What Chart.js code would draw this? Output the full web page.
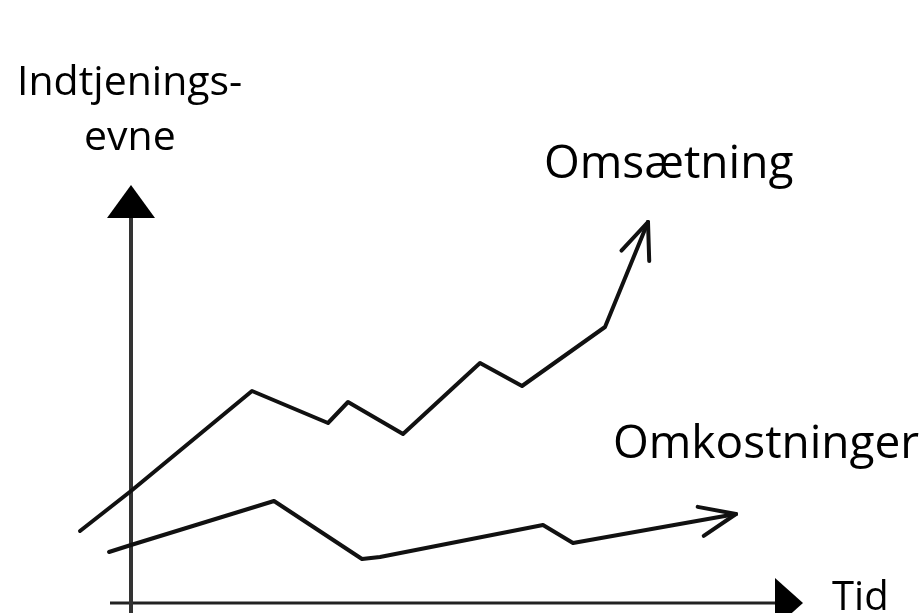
<!DOCTYPE html>
<html>
<head>
<meta charset="utf-8">
<script src="https://cdn.jsdelivr.net/npm/chart.js@4"></script>
<style>
  html, body { margin: 0; padding: 0; background: #fff; }
  #wrap { width: 923px; height: 613px; }
</style>
</head>
<body>
<div id="wrap"><canvas id="skitse" width="923" height="613"></canvas></div>
<script>
// tid (x) og niveau (y) aflæst fra skitsen
var omsTid = [80, 131, 252, 328, 348, 403, 480, 522, 605, 648];
var omsVaerdi = [82, 122, 222, 190, 211, 179, 250, 227, 286, 391];
var omkTid = [109, 131, 274, 362, 380, 543, 573, 736];
var omkVaerdi = [61, 68, 112, 54, 56, 88, 70, 99];
var yAkseTid = [131, 131];
var yAkseVaerdi = [-5, 395];
var xAkseTid = [110, 776];
var xAkseVaerdi = [10, 10];

function punkter(xs, ys) {
    return xs.map(function (x, i) { return { x: x, y: ys[i] }; });
}

function font(px) { return px + "px 'Open Sans', sans-serif"; }

// pilespidser og tekster
var pile = {
    id: "pile",
    afterDatasetsDraw: function (chart) {
        var ctx = chart.ctx;
        var sx = chart.scales.x, sy = chart.scales.y;
        function px(x) { return sx.getPixelForValue(x); }
        function py(y) { return sy.getPixelForValue(y); }

        ctx.save();
        ctx.fillStyle = "#000";
        // y-akse trekant
        var ax = px(yAkseTid[1]), ay = py(yAkseVaerdi[1]);
        ctx.beginPath();
        ctx.moveTo(ax, ay - 33);
        ctx.lineTo(ax - 24, ay);
        ctx.lineTo(ax + 24, ay);
        ctx.closePath();
        ctx.fill();
        // x-akse trekant
        var bx = px(xAkseTid[1]), by = py(xAkseVaerdi[1]);
        ctx.beginPath();
        ctx.moveTo(bx + 27, by);
        ctx.lineTo(bx - 1, by - 25);
        ctx.lineTo(bx - 1, by + 25);
        ctx.closePath();
        ctx.fill();

        // åbne pilespidser på kurverne
        [0, 1].forEach(function (i) {
            var pts = chart.getDatasetMeta(i).data;
            var a = pts[pts.length - 1], b = pts[pts.length - 2];
            var ang = Math.atan2(b.y - a.y, b.x - a.x);
            ctx.strokeStyle = "#111";
            ctx.lineWidth = 4;
            ctx.lineCap = "round";
            [0.36, -0.42].forEach(function (d) {
                ctx.beginPath();
                ctx.moveTo(a.x, a.y);
                ctx.lineTo(a.x + 39 * Math.cos(ang + d), a.y + 39 * Math.sin(ang + d));
                ctx.stroke();
            });
        });

        ctx.textBaseline = "alphabetic";
        ctx.textAlign = "left";
        ctx.font = font(41);
        ctx.fillText("Indtjenings-", 17, 95);
        ctx.fillText("evne", 84, 150);
        ctx.font = font(46);
        ctx.fillText("Omsætning", 544, 178);
        ctx.fillText("Omkostninger", 613, 458);
        ctx.font = font(40);
        ctx.fillText("Tid", 832, 610);
        ctx.restore();
    }
};

var ctx = document.getElementById("skitse").getContext("2d");
var myChart = new Chart(ctx, {
    type: "scatter",
    data: {
        datasets: [
            {
                label: "Omsætning",
                data: punkter(omsTid, omsVaerdi),
                showLine: true,
                borderColor: "#111",
                borderWidth: 4,
                pointRadius: 0,
                borderJoinStyle: "round",
                borderCapStyle: "round",
            },
            {
                label: "Omkostninger",
                data: punkter(omkTid, omkVaerdi),
                showLine: true,
                borderColor: "#111",
                borderWidth: 4,
                pointRadius: 0,
                borderJoinStyle: "round",
                borderCapStyle: "round",
            },
            {
                label: "y-akse",
                data: punkter(yAkseTid, yAkseVaerdi),
                showLine: true,
                borderColor: "#333",
                borderWidth: 4,
                pointRadius: 0,
            },
            {
                label: "x-akse",
                data: punkter(xAkseTid, xAkseVaerdi),
                showLine: true,
                borderColor: "#222",
                borderWidth: 3,
                pointRadius: 0,
            },
        ],
    },
    options: {
        responsive: false,
        animation: false,
        layout: { padding: 0 },
        clip: false,
        plugins: { legend: { display: false }, tooltip: { enabled: false } },
        scales: {
            x: { type: "linear", min: 0, max: 923, display: false },
            y: { type: "linear", min: 0, max: 613, display: false },
        },
    },
    plugins: [pile],
});
</script>
</body>
</html>
